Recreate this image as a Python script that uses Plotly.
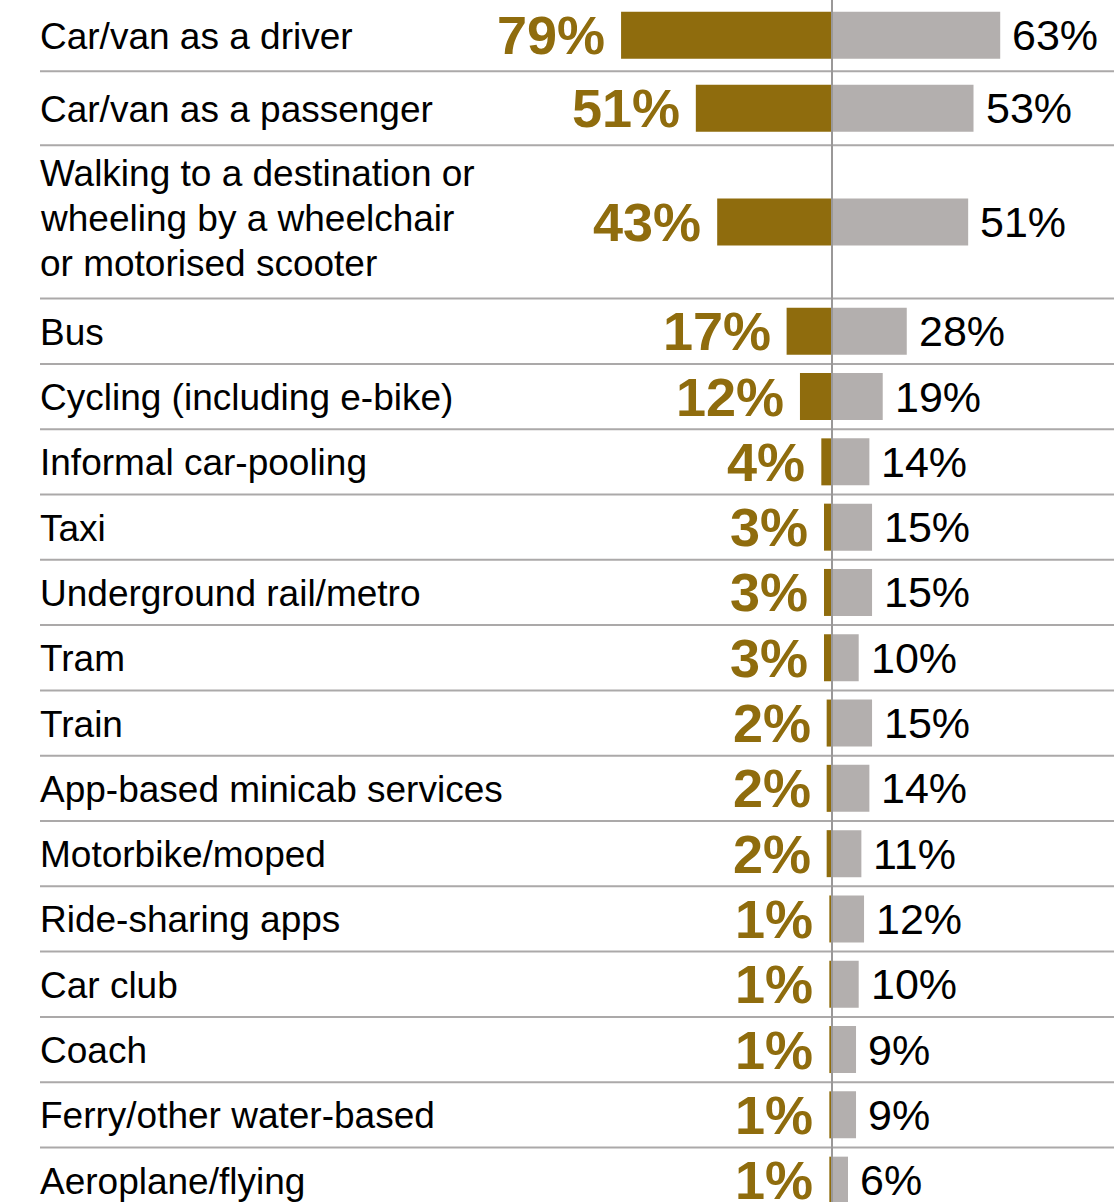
import plotly.graph_objects as go

# ---- data -------------------------------------------------------------
modes = [
    "Car/van as a driver",
    "Car/van as a passenger",
    "Walking to a destination or<br>wheeling by a wheelchair<br>or motorised scooter",
    "Bus",
    "Cycling (including e-bike)",
    "Informal car-pooling",
    "Taxi",
    "Underground rail/metro",
    "Tram",
    "Train",
    "App-based minicab services",
    "Motorbike/moped",
    "Ride-sharing apps",
    "Car club",
    "Coach",
    "Ferry/other water-based",
    "Aeroplane/flying",
]
left_pct = [79, 51, 43, 17, 12, 4, 3, 3, 3, 2, 2, 2, 1, 1, 1, 1, 1]
right_pct = [63, 53, 51, 28, 19, 14, 15, 15, 10, 15, 14, 11, 12, 10, 9, 9, 6]

# ---- layout constants --------------------------------------------------
W, H = 1114, 1202
CENTER_PX = 832          # pixel position of the zero line
PX_PER_PCT = 2.67        # horizontal scale
ROW_PITCH = 65.3         # height of a single-line row
LINE_STEP = 44           # extra height per additional label line
TOP_PAD = [7, 8.7]       # the first two rows are a little taller
TOP_START = -1
BAR_THICK = 47
LABEL_LEADING = 45       # baseline-to-baseline distance in wrapped labels

GOLD = "#8F6C0D"
GREY_BAR = "#B3AFAE"
SEP = "#ABA9A9"
AXIS = "#9A9898"
FONT = "Liberation Sans"

# row boundaries, computed from label line counts
lines = [m.split("<br>") for m in modes]
heights = []
for i, ln in enumerate(lines):
    h = ROW_PITCH + LINE_STEP * (len(ln) - 1)
    if i < len(TOP_PAD):
        h += TOP_PAD[i]
    heights.append(h)
tops = []
y = TOP_START
for h in heights:
    tops.append(y)
    y += h
centers = [t + h / 2 for t, h in zip(tops, heights)]

x_min = -CENTER_PX / PX_PER_PCT
x_max = (W - CENTER_PX) / PX_PER_PCT

fig = go.Figure()
fig.add_trace(go.Bar(
    y=centers, x=[-v for v in left_pct], orientation="h",
    width=BAR_THICK, marker=dict(color=GOLD, line=dict(width=0)),
    hoverinfo="skip",
))
fig.add_trace(go.Bar(
    y=centers, x=right_pct, orientation="h",
    width=BAR_THICK, marker=dict(color=GREY_BAR, line=dict(width=0)),
    hoverinfo="skip",
))

shapes = []
# row separators
for t in tops[1:]:
    shapes.append(dict(type="line", xref="paper", yref="y",
                       x0=40 / W, x1=1, y0=t, y1=t,
                       line=dict(color=SEP, width=2), layer="above"))
# zero line
shapes.append(dict(type="line", xref="x", yref="paper", x0=0, x1=0, y0=0, y1=1,
                   line=dict(color=AXIS, width=2), layer="above"))

annotations = []
for c, ln, lv, rv in zip(centers, lines, left_pct, right_pct):
    n = len(ln)
    nudge = 1 if n == 1 else -3
    for k, txt in enumerate(ln):
        annotations.append(dict(
            xref="paper", yref="y", x=41 / W,
            y=c + (k - (n - 1) / 2) * LABEL_LEADING + nudge,
            text=txt, showarrow=False, xanchor="left", yanchor="middle",
            xshift=-3,
            font=dict(family=FONT, size=37, color="#000000"),
        ))
    annotations.append(dict(
        xref="x", yref="y", x=-lv, y=c, text=f"<b>{lv}%</b>", showarrow=False,
        xanchor="right", yanchor="middle", xshift=-14,
        font=dict(family=FONT, size=54, color=GOLD),
    ))
    annotations.append(dict(
        xref="x", yref="y", x=rv, y=c, text=f"{rv}%", showarrow=False,
        xanchor="left", yanchor="middle", xshift=10,
        font=dict(family=FONT, size=43, color="#000000"),
    ))

fig.update_layout(
    width=W, height=H,
    margin=dict(l=0, r=0, t=0, b=0),
    paper_bgcolor="white", plot_bgcolor="white",
    barmode="overlay", showlegend=False,
    xaxis=dict(range=[x_min, x_max], visible=False, fixedrange=True),
    yaxis=dict(range=[H, 0], visible=False, fixedrange=True),
    shapes=shapes, annotations=annotations,
)

fig.write_html("out.html", config={"displayModeBar": False})
